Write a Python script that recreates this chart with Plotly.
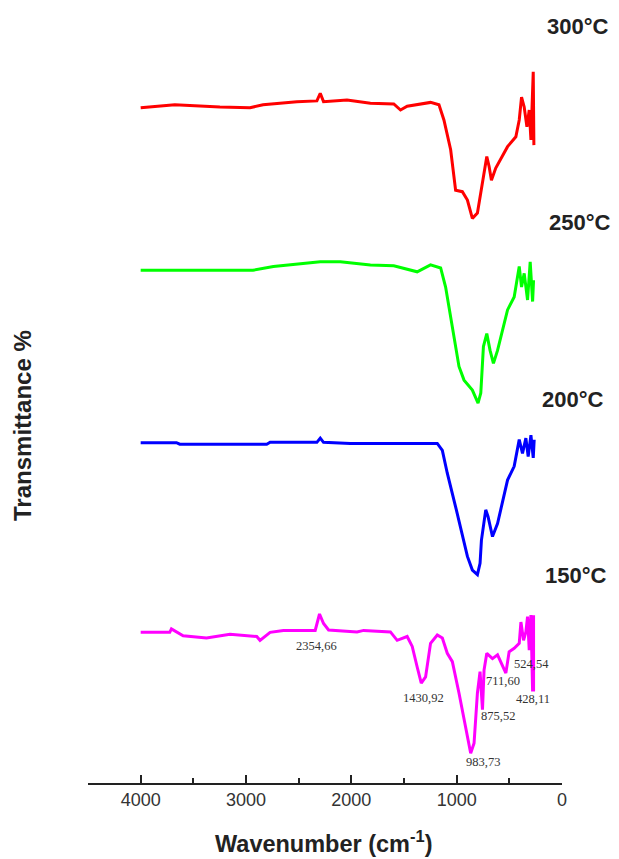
import plotly.graph_objects as go

# ---- data (wavenumber cm^-1, relative transmittance, stacked) ----
wn_300 = [4000, 3819, 3676, 3248, 2962, 2838, 2517, 2327, 2295, 2264, 2041, 1819, 1597, 1533, 1470, 1248, 1168, 1121, 1057, 1010, 946, 898, 851, 803, 740, 714, 692, 670, 629, 517, 438, 406, 384, 359, 333, 311, 295, 273, 267]
t_300 = [88.5, 88.7, 88.9, 88.6, 88.5, 88.9, 89.3, 89.4, 90.4, 89.3, 89.5, 89.1, 89.0, 88.2, 88.7, 89.2, 88.9, 86.9, 83.0, 77.7, 77.5, 76.4, 74.0, 74.7, 79.9, 82.1, 80.8, 79.0, 80.6, 83.4, 84.7, 86.9, 89.9, 88.6, 86.0, 88.2, 84.3, 93.2, 83.6]

wn_250 = [4000, 3629, 2933, 2740, 2549, 2295, 2105, 1819, 1597, 1375, 1248, 1152, 1105, 1041, 978, 930, 851, 797, 771, 746, 714, 683, 651, 612, 517, 454, 406, 384, 359, 327, 302, 279, 270]
t_250 = [67.2, 67.2, 67.2, 67.7, 68.0, 68.3, 68.3, 67.9, 67.8, 67.0, 67.9, 67.5, 65.0, 59.8, 54.6, 52.8, 51.5, 49.8, 51.1, 57.2, 58.9, 56.7, 55.0, 56.7, 62.0, 63.7, 67.7, 65.0, 66.8, 63.3, 68.3, 63.1, 65.9]

wn_200 = [4000, 3660, 3629, 2803, 2771, 2327, 2295, 2264, 2010, 1184, 1136, 1089, 1010, 946, 898, 851, 803, 778, 765, 724, 702, 660, 612, 517, 454, 406, 375, 343, 321, 295, 273, 264]
t_200 = [44.6, 44.6, 44.4, 44.4, 44.65, 44.65, 45.2, 44.65, 44.5, 44.5, 43.6, 40.6, 36.2, 32.7, 29.7, 27.9, 27.3, 28.8, 31.8, 35.8, 34.9, 32.3, 34.0, 39.7, 41.5, 45.0, 43.2, 45.2, 42.8, 45.6, 42.6, 45.0]

wn_150 = [4000, 3724, 3708, 3597, 3375, 3152, 2898, 2867, 2771, 2645, 2343, 2302, 2264, 2216, 1946, 1883, 1629, 1565, 1470, 1422, 1375, 1336, 1295, 1248, 1184, 1136, 1089, 1041, 978, 914, 867, 835, 803, 778, 755, 740, 714, 660, 612, 533, 502, 454, 406, 390, 365, 343, 327, 311, 295, 279, 270, 270]
t_150 = [19.75, 19.75, 20.2, 19.3, 19.0, 19.5, 19.2, 18.7, 19.75, 20.0, 20.0, 22.15, 20.9, 20.05, 19.8, 20.0, 19.8, 18.7, 19.2, 17.9, 15.2, 13.1, 13.9, 18.3, 19.4, 19.0, 17.0, 15.9, 11.8, 7.4, 3.9, 5.2, 11.8, 14.6, 9.6, 14.8, 17.0, 16.3, 16.8, 14.4, 17.2, 17.65, 18.3, 21.1, 18.7, 19.8, 21.8, 17.4, 22.0, 12.0, 22.0, 12.0]

series_names = ["300°C", "250°C", "200°C", "150°C"]
series_colors = ["#FF0000", "#00FF00", "#0000FF", "#FF00FF"]

peak_labels = ["2354,66", "1430,92", "983,73", "875,52", "711,60", "524,54", "428,11"]
peak_x = [2327, 1314, 754, 611, 563, 294, 278]
peak_y = [17.9, 11.1, 2.7, 8.8, 13.4, 15.6, 11.0]

x_ticks = [4000, 3000, 2000, 1000, 0]

fig = go.Figure()
for wn, t, name, col in zip([wn_300, wn_250, wn_200, wn_150], [t_300, t_250, t_200, t_150], series_names, series_colors):
    fig.add_trace(go.Scatter(x=wn, y=t, mode="lines", name=name,
                             line=dict(color=col, width=3), showlegend=False))

# series labels
label_pos = [(1.034, 0.991), (1.038, 0.735), (1.024, 0.502), (1.0285, 0.2726)]
for name, (lx, ly) in zip(series_names, label_pos):
    fig.add_annotation(x=lx, xref="paper", y=ly, yref="paper", text="<b>" + name + "</b>",
                       xanchor="center", yanchor="middle", showarrow=False,
                       font=dict(family="Liberation Sans, Arial", size=22, color="#222222"))

for lab, px_, py_ in zip(peak_labels, peak_x, peak_y):
    fig.add_annotation(x=px_, y=py_, text=lab, showarrow=False,
                       font=dict(family="Liberation Serif, Times New Roman", size=12.5, color="#333333"))

fig.add_annotation(x=-0.137, xref="paper", y=0.468, yref="paper", text="<b>Transmittance %</b>",
                   textangle=-90, xanchor="center", yanchor="middle", showarrow=False,
                   font=dict(family="Liberation Sans, Arial", size=24, color="#222222"))

fig.add_annotation(x=0.496, xref="paper", y=-0.0773, yref="paper",
                   text="<b>Wavenumber (cm<sup>-1</sup>)</b>",
                   xanchor="center", yanchor="middle", showarrow=False,
                   font=dict(family="Liberation Sans, Arial", size=23.5, color="#222222"))

fig.update_layout(
    width=619, height=859,
    margin=dict(l=88, r=57, t=20, b=76),
    paper_bgcolor="white", plot_bgcolor="white",
    xaxis=dict(range=[4500, 0], tickvals=x_ticks, ticks="inside", ticklen=8, tickwidth=1.5,
               tickcolor="#222222", showline=True, linecolor="#222222", linewidth=1.5,
               showgrid=False, zeroline=False,
               tickfont=dict(family="Liberation Sans, Arial", size=18, color="#333333"),
               minor=dict(tickvals=[3500, 2500, 1500, 500], ticks="inside", ticklen=5, tickwidth=1.5, tickcolor="#222222")),
    yaxis=dict(range=[0, 100], visible=False),
)

fig.write_html("out.html")
